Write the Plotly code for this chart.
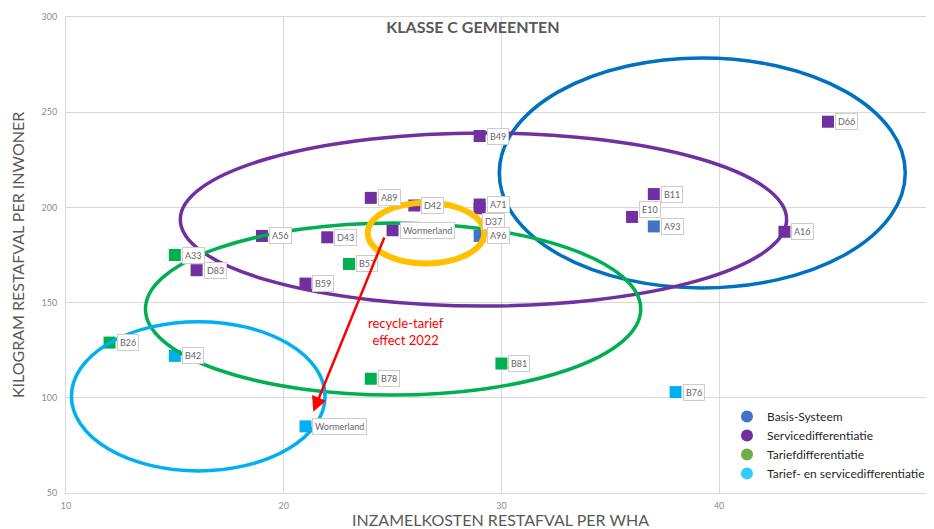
import plotly.graph_objects as go

# ---------------- data ----------------
gemeenten = ["B49", "A89", "D42", "A71", "D37", "A96", "Wormerland", "D43", "B57",
             "B59", "A56", "A33", "D83", "B26", "B42", "B78", "Wormerland", "B81",
             "B76", "B11", "E10", "A93", "A16", "D66"]
kosten = [29, 24, 26, 29, 29, 29, 25, 22, 23,
          21, 19, 15, 16, 12, 15, 24, 21, 30,
          38, 37, 36, 37, 43, 45]
restafval = [237.5, 205, 201, 201.5, 199.5, 185, 188, 184.3, 170.3,
             160, 185, 175, 167, 129, 122, 110, 85, 118,
             103, 207, 195, 190, 187.2, 245]
systeem = ["Servicedifferentiatie", "Servicedifferentiatie", "Servicedifferentiatie",
           "Servicedifferentiatie", "Servicedifferentiatie", "Basis-Systeem",
           "Servicedifferentiatie", "Servicedifferentiatie", "Tariefdifferentiatie",
           "Servicedifferentiatie", "Servicedifferentiatie", "Tariefdifferentiatie",
           "Servicedifferentiatie", "Tariefdifferentiatie", "Tarief- en servicedifferentiatie",
           "Tariefdifferentiatie", "Tarief- en servicedifferentiatie", "Tariefdifferentiatie",
           "Tarief- en servicedifferentiatie", "Servicedifferentiatie", "Servicedifferentiatie",
           "Basis-Systeem", "Servicedifferentiatie", "Servicedifferentiatie"]

categorieen = ["Basis-Systeem", "Servicedifferentiatie", "Tariefdifferentiatie",
               "Tarief- en servicedifferentiatie"]
x_ticks = [10, 20, 30, 40, 50]
y_ticks = [50, 100, 150, 200, 250, 300]

# highlighted clusters (x0, x1, y0, y1) in data units
cluster_regions = {
    "Basis-Systeem": (29.9, 48.55, 157.7, 278.5),
    "Servicedifferentiatie": (15.25, 43.1, 148.2, 239.1),
    "Tariefdifferentiatie": (13.65, 36.4, 101.5, 191.8),
    "Tarief- en servicedifferentiatie": (10.25, 21.9, 61.6, 140.0),
    "Wormerland 2021": (23.86, 29.21, 170.6, 202.5),
}
arrow_from = (24.65, 185.0)
arrow_to = (21.36, 92.7)
effect_label_pos = (25.62, 135.0)

# ---------------- styles ----------------
marker_colors = {
    "Basis-Systeem": "#4472C4",
    "Servicedifferentiatie": "#7030A0",
    "Tariefdifferentiatie": "#00B050",
    "Tarief- en servicedifferentiatie": "#00B0F0",
}
legend_colors = {
    "Basis-Systeem": "#4472C4",
    "Servicedifferentiatie": "#7030A0",
    "Tariefdifferentiatie": "#70AD47",
    "Tarief- en servicedifferentiatie": "#33CCFF",
}
ellipse_colors = {
    "Basis-Systeem": "#0070C0",
    "Servicedifferentiatie": "#7030A0",
    "Tariefdifferentiatie": "#00B050",
    "Tarief- en servicedifferentiatie": "#00B0F0",
    "Wormerland 2021": "#FFC000",
}
label_offsets = {"D37": (2, -13), "E10": (7, 7)}
FONT = "Lato, 'Open Sans', sans-serif"

# page body has an 8px margin; compensate so the plot area sits at 66..934 x 17..493
W, H = 926, 521
ML, MT, MB, MR = 58, 9, 36, 0
PW = W - ML - MR
PH = H - MT - MB

fig = go.Figure()

for cat in categorieen:
    idx = [i for i, s in enumerate(systeem) if s == cat]
    fig.add_trace(go.Scatter(
        x=[kosten[i] for i in idx], y=[restafval[i] for i in idx],
        mode="markers", name=cat, showlegend=False,
        text=[gemeenten[i] for i in idx],
        marker=dict(symbol="square", size=12, color=marker_colors[cat]),
        hovertemplate="%{text}: %{x}, %{y}<extra></extra>",
    ))

for cat in categorieen:
    fig.add_trace(go.Scatter(
        x=[None], y=[None], mode="markers", name=cat,
        marker=dict(symbol="circle", size=15, color=legend_colors[cat]),
    ))

for name, (x0, x1, y0, y1) in cluster_regions.items():
    fig.add_shape(type="circle", xref="x", yref="y", x0=x0, x1=x1, y0=y0, y1=y1,
                  line=dict(color=ellipse_colors[name], width=6 if name.startswith("Wormerland") else 3.5),
                  layer="above")

for i, name in enumerate(gemeenten):
    dx, dy = label_offsets.get(name, (7, 0))
    fig.add_annotation(x=kosten[i], y=restafval[i], text=name, showarrow=False,
                       xanchor="left", yanchor="middle", xshift=dx, yshift=dy,
                       font=dict(family=FONT, size=9, color="#666666"),
                       bgcolor="white", bordercolor="#cccccc", borderwidth=1, borderpad=2)

fig.add_annotation(x=arrow_to[0], y=arrow_to[1], ax=arrow_from[0], ay=arrow_from[1],
                   xref="x", yref="y", axref="x", ayref="y", showarrow=True,
                   arrowhead=2, arrowsize=1.2, arrowwidth=2.5, arrowcolor="#FF0000", text="")
fig.add_annotation(x=effect_label_pos[0], y=effect_label_pos[1], xref="x", yref="y",
                   text="recycle-tarief<br>effect 2022", showarrow=False,
                   font=dict(family=FONT, size=13, color="#FF0000"), align="center")

# axis titles
fig.add_annotation(x=-49 / PW, y=0.5, xref="paper", yref="paper", xanchor="center",
                   yanchor="middle",
                   text="KILOGRAM RESTAFVAL PER INWONER", showarrow=False, textangle=-90,
                   font=dict(family=FONT, size=16, color="#595959"))
fig.add_annotation(x=0.5, y=0, xref="paper", yref="paper",
                   text="INZAMELKOSTEN RESTAFVAL PER WHA", showarrow=False,
                   font=dict(family=FONT, size=16, color="#595959"),
                   yanchor="middle", yshift=-26)

fig.update_layout(
    width=W, height=H,
    margin=dict(l=ML, r=MR, t=MT, b=MB, pad=0),
    paper_bgcolor="white", plot_bgcolor="white",
    font=dict(family=FONT, color="#595959"),
    title=dict(text="<b>KLASSE C GEMEENTEN</b>", x=(473 - 8) / W, xanchor="center",
               y=1 - (27 - 8) / H, yanchor="middle",
               font=dict(family=FONT, size=16, color="#595959")),
    legend=dict(x=0.7615, y=0.191, xanchor="left", yanchor="top",
                bgcolor="rgba(0,0,0,0)", font=dict(family=FONT, size=12, color="#1f1f1f"),
                itemsizing="constant", tracegroupgap=0),
    showlegend=True,
)
fig.update_xaxes(range=[10, 49.87], tickvals=x_ticks, showgrid=True, gridcolor="#d9d9d9",
                 zeroline=False, showline=True, linecolor="#d9d9d9", mirror=True,
                 tickfont=dict(size=9, color="#8c8c8c"), ticks="", ticklabelstandoff=4,
                 fixedrange=True)
fig.update_yaxes(range=[50, 300], tickvals=y_ticks, showgrid=True, gridcolor="#d9d9d9",
                 zeroline=False, showline=True, linecolor="#d9d9d9", mirror=True,
                 tickfont=dict(size=9, color="#8c8c8c"), ticks="", ticklabelstandoff=6,
                 fixedrange=True)

fig.write_html("out.html")
